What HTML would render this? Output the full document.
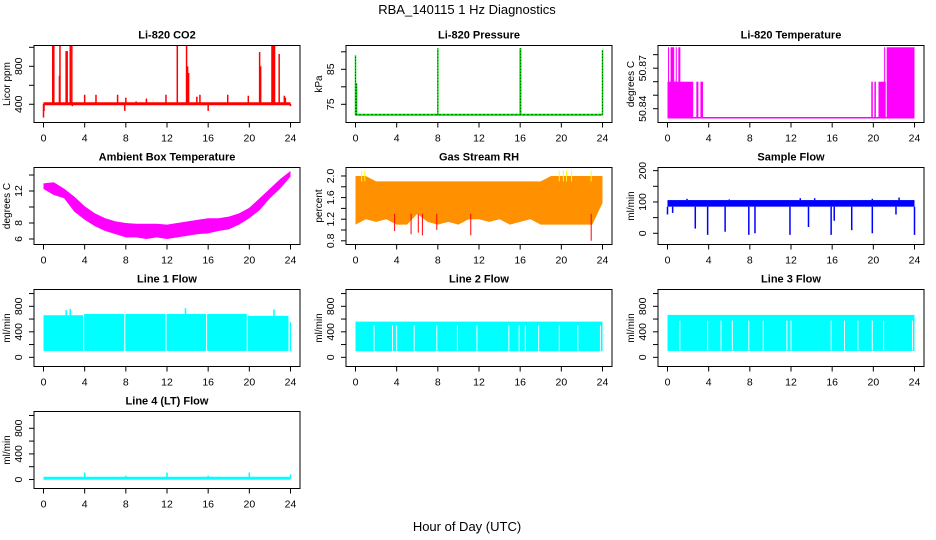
<!DOCTYPE html>
<html><head><meta charset="utf-8">
<style>
html,body{margin:0;padding:0;background:#fff;}
svg{display:block;font-family:"Liberation Sans",sans-serif;}
</style></head>
<body>
<svg id="chart" width="936" height="540" viewBox="0 0 936 540">
<rect width="936" height="540" fill="#fff"/>
<text x="467" y="14" text-anchor="middle" font-size="13">RBA_140115  1 Hz Diagnostics</text>
<text x="467" y="531" text-anchor="middle" font-size="13">Hour of Day (UTC)</text>
</svg>
<script>
// ---- data ----
var xTicks = [0,4,8,12,16,20,24];
// CO2
var co2Base = 405;
var co2SpikeHours = [0.0,0.05,0.9,1.0,1.55,1.6,2.2,2.3,2.6,2.75,2.8,4.0,5.1,7.2,7.9,8.0,9.0,10.0,11.9,13.0,13.9,14.0,14.1,14.9,15.2,16.0,17.9,19.9,21.0,21.1,22.2,22.3,22.4,22.45,22.9,23.4,23.5,24.0];
var co2SpikeValues = [260,330,1030,1030,700,1030,960,960,1030,1030,380,500,500,500,330,470,430,460,500,1030,1030,800,730,480,500,330,500,490,950,800,1030,1030,1030,1030,930,490,470,380];
// Pressure
var presBase = 72;
var presSpikeHours = [0.0,0.1,8.0,16.0,16.05,24.0];
var presSpikeValues = [89,81,91,91,91,90.5];
// Li-820 temperature
var tempLow = 50.8333;
var tempBandStart = [0.0,0.05,0.3,0.8,1.05,2.8,3.2,19.8,20.1,20.5,21.05,21.3];
var tempBandEnd   = [2.5,0.15,0.65,0.9,1.25,3.0,3.45,19.95,20.25,21.2,21.15,24.0];
var tempBandTop   = [50.86,50.8855,50.8855,50.8855,50.8855,50.86,50.86,50.86,50.86,50.86,50.8855,50.8855];
// Ambient box temperature
var ambHours = [0,1,2,3,4,5,6,7,8,9,10,11,12,13,14,15,16,17,18,19,20,21,22,23,24];
var ambUpper = [12.95,13.1,12.3,11.3,10.1,9.2,8.6,8.2,8.0,7.9,7.9,7.9,7.8,8.0,8.2,8.4,8.6,8.6,8.8,9.2,9.9,11.1,12.3,13.5,14.5];
var ambLower = [12.25,11.5,11.1,9.4,8.4,7.6,7.0,6.6,6.2,6.2,6.0,6.2,6.0,6.2,6.4,6.6,6.7,7.0,7.2,7.8,8.6,9.6,11.1,12.3,13.8];
// Gas stream RH
var rhHours = [0,1,2,3,4,5,6,7,8,9,10,11,12,13,14,15,16,17,18,19,20,21,22,23,24];
var rhUpper = [2.0,2.0,1.9,1.9,1.9,1.9,1.9,1.9,1.9,1.9,1.9,1.9,1.9,1.9,1.9,1.9,1.9,1.9,1.9,2.0,2.0,2.0,2.0,2.0,2.0];
var rhLower = [1.1,1.2,1.15,1.2,1.1,1.1,1.3,1.15,1.1,1.15,1.1,1.2,1.2,1.15,1.2,1.1,1.15,1.2,1.1,1.1,1.1,1.1,1.1,1.1,1.5];
var rhDipHours = [3.8,5.4,6.1,6.5,7.9,11.2,22.9];
var rhDipValues = [0.98,0.92,0.95,0.9,1.0,0.9,0.8];
var rhPeakHours = [0.6,0.9,19.8,20.2,20.5,21.0,22.9];
var rhPeakValues = [2.1,2.1,2.1,2.1,2.1,2.1,2.1];
// Sample flow
var sfLow = 85, sfHigh = 106;
var sfDipHours = [0.0,0.5,2.7,3.9,5.6,7.9,8.5,11.9,13.7,15.9,16.2,17.9,19.9,22.2,24.0];
var sfDipValues = [60,65,15,-5,5,-5,0,-5,20,-5,40,10,0,60,-5];
var sfPeakHours = [1.9,6.0,12.9,14.3,19.9,22.5];
var sfPeakValues = [110,108,112,112,110,114];
// Line flows
var l1SegStart = [0,3.95,7.95,11.95,15.9,19.85,23.95];
var l1SegEnd   = [3.85,7.85,11.85,15.8,19.75,23.8,24.0];
var l1SegTop   = [660,680,680,680,680,650,550];
var l1Low = 100;
var l1PeakHours = [2.2,2.6,13.8,22.4];
var l1PeakValues = [740,760,770,750];
var l2Top = 560, l2Low = 95;
var l2GapHours = [1.8,3.6,4.0,5.7,7.9,9.9,11.8,14.9,15.9,16.5,17.8,19.8,21.6,23.8];
var l3Top = 665, l3Low = 100;
var l3GapHours = [1.2,3.9,5.2,6.3,7.9,9.3,11.6,12.0,15.9,17.2,18.5,19.9,21.0,23.8];
var l4Base = 20;
var l4SpikeHours = [4,8,12,16,20,24];
var l4SpikeValues = [110,60,110,60,110,80];

// ---- layout ----
var NS = "http://www.w3.org/2000/svg";
var svg = document.getElementById('chart');
function el(tag, attrs, parent){var e=document.createElementNS(NS,tag);for(var k in attrs)e.setAttribute(k,attrs[k]);(parent||svg).appendChild(e);return e;}
var colLeft=[34,346,658], rowTop=[45.5,167.5,289.5,411.5], W=266, H=77;

function makePanel(name,col,row,title,ylab,ymin,ymax,ticks,labels){
  var g=el('g',{});
  
  
  var L=colLeft[col], T=rowTop[row], B=T+H, R=L+W;
  var p={g:g,L:L,T:T,B:B,R:R,
    x:function(h){return L+9.5+h*(247/24);},
    y:function(v){return B-(v-ymin)/(ymax-ymin)*H;}};
  var cp=el('clipPath',{id:'clip-'+name},g); el('rect',{x:L,y:T,width:W,height:H},cp);
  p.data=el('g',{'clip-path':'url(#clip-'+name+')'},g);
  
  
  var t=el('text',{x:(L+R)/2,y:T-7,'text-anchor':'middle','font-size':'11','font-weight':'bold'},g);
  t.textContent=title;
  
  
  var yl=el('text',{transform:'translate('+(L-24)+','+(T+H/2)+') rotate(-90)','text-anchor':'middle','font-size':'10'},g);
  yl.textContent=ylab;
  
  
  var ya=el('g',{stroke:'#000','stroke-width':'1'},g);
  
  
  ticks.forEach(function(v){var yy=p.y(v);el('line',{x1:L-5,x2:L,y1:yy,y2:yy},ya);});
  labels.forEach(function(v){var yy=p.y(Number(v));var tx=el('text',{transform:'translate('+(L-12)+','+yy+') rotate(-90)','text-anchor':'middle','font-size':'10.5',stroke:'none',fill:'#000'},ya);tx.textContent=String(v);});
  var xa=el('g',{stroke:'#000','stroke-width':'1'},g);
  
  
  xTicks.forEach(function(h){var xx=p.x(h);el('line',{x1:xx,x2:xx,y1:B,y2:B+5},xa);
    var tx=el('text',{x:xx,y:B+19,'text-anchor':'middle','font-size':'10.5',stroke:'none',fill:'#000'},xa);tx.textContent=String(h);});
  var box=el('rect',{x:L,y:T,width:W,height:H,fill:'none',stroke:'#000','stroke-width':'1'},g);
  
  
  return p;
}
function vline(p,h,v0,v1,color,w){return el('line',{x1:p.x(h),x2:p.x(h),y1:p.y(v0),y2:p.y(v1),stroke:color,'stroke-width':w||1},p.data);}
function band(p,hs,up,lo,color){var pts=[];for(var i=0;i<hs.length;i++)pts.push(p.x(hs[i])+','+p.y(up[i]));for(var j=hs.length-1;j>=0;j--)pts.push(p.x(hs[j])+','+p.y(lo[j]));return el('polygon',{points:pts.join(' '),fill:color},p.data);}
function rectV(p,h0,h1,v0,v1,color){return el('rect',{x:p.x(h0),y:p.y(v1),width:Math.max(1,p.x(h1)-p.x(h0)),height:p.y(v0)-p.y(v1),fill:color},p.data);}

// CO2
var p1=makePanel('co2',0,0,'Li-820 CO2','Licor ppm',208,1019,[400,600,800,1000],[400,800]);
el('line',{x1:p1.x(0),x2:p1.x(24),y1:p1.y(co2Base),y2:p1.y(co2Base),stroke:'#f00','stroke-width':3},p1.data);
for(var i=0;i<co2SpikeHours.length;i++) vline(p1,co2SpikeHours[i],co2Base,co2SpikeValues[i],'#f00',1.5);
// Pressure
var p2=makePanel('pressure',1,0,'Li-820 Pressure','kPa',69.8,91.8,[75,80,85,90],[75,85]);
el('line',{x1:p2.x(0),x2:p2.x(24),y1:p2.y(presBase),y2:p2.y(presBase),stroke:'#00e000','stroke-width':2},p2.data);
el('line',{x1:p2.x(0),x2:p2.x(24),y1:p2.y(presBase),y2:p2.y(presBase),stroke:'#000','stroke-width':1,'stroke-dasharray':'1 3'},p2.data);
for(var i=0;i<presSpikeHours.length;i++){vline(p2,presSpikeHours[i],presBase,presSpikeValues[i],'#00e000',1.5);
  el('line',{x1:p2.x(presSpikeHours[i]),x2:p2.x(presSpikeHours[i]),y1:p2.y(presBase),y2:p2.y(presSpikeValues[i]),stroke:'#000','stroke-width':0.7,'stroke-dasharray':'1 2'},p2.data);}
// Li-820 temperature
var p3=makePanel('li820-temp',2,0,'Li-820 Temperature','degrees C',50.8298,50.8868,[50.84,50.85,50.86,50.87,50.88],['50.84','50.87']);
el('line',{x1:p3.x(0),x2:p3.x(24),y1:p3.y(tempLow),y2:p3.y(tempLow),stroke:'#f0f','stroke-width':1.5},p3.data);
for(var i=0;i<tempBandStart.length;i++) rectV(p3,tempBandStart[i],tempBandEnd[i],tempLow,tempBandTop[i],'#f0f');
// Ambient
var p4=makePanel('ambient-temp',0,1,'Ambient Box Temperature','degrees C',5.31,14.94,[6,8,10,12,14],[6,8,12]);
band(p4,ambHours,ambUpper,ambLower,'#f0f');
// RH
var p5=makePanel('gas-rh',1,1,'Gas Stream RH','percent',0.7315,2.157,[0.8,1.0,1.2,1.4,1.6,1.8,2.0],['0.8','1.2','1.6','2.0']);
band(p5,rhHours,rhUpper,rhLower,'#ff9000');
for(var i=0;i<rhDipHours.length;i++) vline(p5,rhDipHours[i],1.3,rhDipValues[i],'#f00',1);
for(var i=0;i<rhPeakHours.length;i++) vline(p5,rhPeakHours[i],1.9,rhPeakValues[i],'#ff0',1);
// Sample flow
var p6=makePanel('sample-flow',2,1,'Sample Flow','ml/min',-35.8,210,[0,50,100,150,200],[0,100,200]);
rectV(p6,0,24,sfLow,sfHigh,'#00f');
for(var i=0;i<sfDipHours.length;i++) vline(p6,sfDipHours[i],sfLow,sfDipValues[i],'#00f',1.5);
for(var i=0;i<sfPeakHours.length;i++) vline(p6,sfPeakHours[i],sfHigh,sfPeakValues[i],'#00f',1.5);
// Line 1
var flowTicks=[0,200,400,600,800,1000], flowLabels=[0,400,800];
var p7=makePanel('line1-flow',0,2,'Line 1 Flow','ml/min',-144,1063.5,flowTicks,flowLabels);
for(var i=0;i<l1SegStart.length;i++) rectV(p7,l1SegStart[i],l1SegEnd[i],l1Low,l1SegTop[i],'#0ff');
for(var i=0;i<l1PeakHours.length;i++) vline(p7,l1PeakHours[i],650,l1PeakValues[i],'#0ff',1.5);
// Line 2
var p8=makePanel('line2-flow',1,2,'Line 2 Flow','ml/min',-144,1063.5,flowTicks,flowLabels);
rectV(p8,0,24,l2Low,l2Top,'#0ff');
for(var i=0;i<l2GapHours.length;i++) vline(p8,l2GapHours[i],l2Low+10,l2Top-60,'#fff',1);
// Line 3
var p9=makePanel('line3-flow',2,2,'Line 3 Flow','ml/min',-144,1063.5,flowTicks,flowLabels);
rectV(p9,0,24,l3Low,l3Top,'#0ff');
for(var i=0;i<l3GapHours.length;i++) vline(p9,l3GapHours[i],l3Low+10,l3Top-90,'#fff',1);
// Line 4
var p10=makePanel('line4-flow',0,3,'Line 4 (LT) Flow','ml/min',-140,1062,flowTicks,flowLabels);
el('line',{x1:p10.x(0),x2:p10.x(24),y1:p10.y(l4Base),y2:p10.y(l4Base),stroke:'#0ff','stroke-width':3},p10.data);
for(var i=0;i<l4SpikeHours.length;i++) vline(p10,l4SpikeHours[i],l4Base,l4SpikeValues[i],'#0ff',1.5);
</script>
</body></html>
